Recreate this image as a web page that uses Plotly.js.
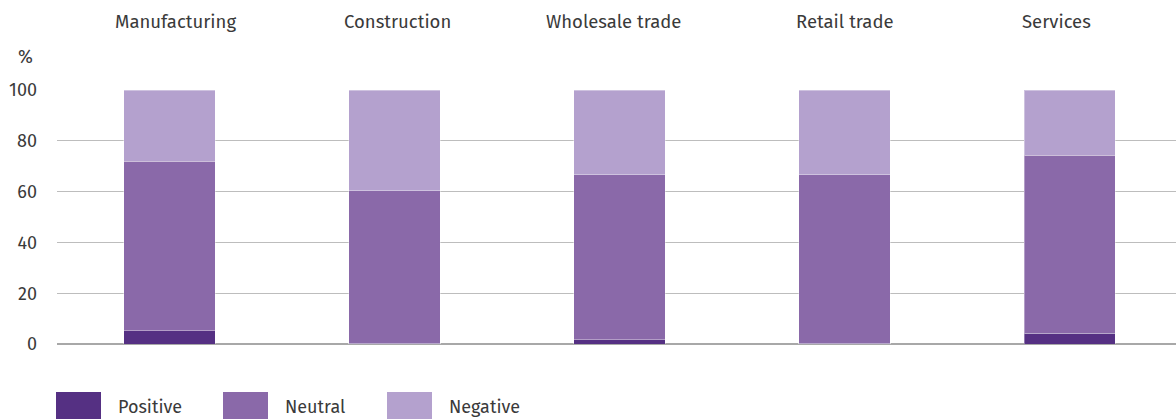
<!DOCTYPE html>
<html>
<head>
<meta charset="utf-8">
<script src="https://cdn.plot.ly/plotly-3.0.1.min.js"></script>
<style>html,body{margin:0;padding:0;background:#fff;}#chart{width:1176px;height:419px;}</style>
</head>
<body>
<div id="chart"></div>
<script>
const categories = ["Manufacturing", "Construction", "Wholesale trade", "Retail trade", "Services"];
const seriesNames = ["Positive", "Neutral", "Negative"];
const positive = [5.3, 0.3, 1.6, 0.3, 4.2];
const neutral = [66.7, 60.0, 65.0, 66.4, 70.2];
const negative = [28.0, 39.7, 33.4, 33.3, 25.6];
const colors = ["#553083", "#8a69a9", "#b4a1ce"];
const yTicks = [0, 20, 40, 60, 80, 100];

const FONT = "Fira Sans, Open Sans, sans-serif";
const TXT = "#3a3a3a";
const W = 1176, H = 419, L = 57, R = 0, T = 90, B = 75;
const pw = W - L - R, ph = H - T - B;
const px = p => (p - L) / pw;
const py = p => (H - B - p) / ph;

const series = [positive, neutral, negative];
const traces = series.map((vals, i) => ({
  type: "bar",
  name: seriesNames[i],
  x: categories,
  y: vals,
  width: 0.405,
  marker: {color: colors[i], line: {color: "rgba(255,255,255,0.35)", width: 1}},
  showlegend: false,
  hoverinfo: "x+y+name"
}));

const shapes = [];
const annotations = [];
// category headers (placed above the plot, slightly offset as in the reference)
const headerShift = [6, 3, -6, 0, -13];
categories.forEach((c, i) => {
  annotations.push({xref: "x", yref: "paper", x: c, y: py(22), xshift: headerShift[i],
    xanchor: "center", yanchor: "middle", text: c, showarrow: false,
    font: {family: FONT, size: 18.5, color: TXT}});
});
const legendX = [56, 223, 387];
seriesNames.forEach((n, i) => {
  shapes.push({type: "rect", xref: "paper", yref: "paper",
    x0: px(legendX[i]), x1: px(legendX[i] + 45), y0: py(392), y1: py(420),
    fillcolor: colors[i], line: {width: 0}});
  annotations.push({xref: "paper", yref: "paper", x: px(legendX[i] + 60), y: py(407),
    xanchor: "left", yanchor: "middle", text: n, showarrow: false,
    font: {family: FONT, size: 18, color: TXT}});
});
annotations.push({xref: "paper", yref: "paper", x: px(16), y: py(57), xanchor: "left", yanchor: "middle",
  text: "%", showarrow: false, font: {family: FONT, size: 18, color: TXT}});

const layout = {
  width: W, height: H,
  margin: {l: L, r: R, t: T, b: B, pad: 0},
  paper_bgcolor: "#fff", plot_bgcolor: "#fff",
  barmode: "stack",
  font: {family: FONT, size: 18, color: TXT},
  xaxis: {
    type: "category", side: "top", range: [-0.5, 4.473],
    showgrid: false, zeroline: false, showline: false, ticks: "",
    showticklabels: false
  },
  yaxis: {
    range: [0, 100], tickvals: yTicks, ticktext: yTicks.map(String),
    showgrid: true, gridcolor: "#bdbdbd", gridwidth: 1,
    zeroline: true, zerolinecolor: "#a8a8a8", zerolinewidth: 2,
    showline: false, ticks: "", ticklabelstandoff: 19,
    tickfont: {family: FONT, size: 18, color: TXT}
  },
  shapes: shapes,
  annotations: annotations,
  showlegend: false
};

Plotly.newPlot("chart", traces, layout, {displayModeBar: false, staticPlot: true});
</script>
</body>
</html>
